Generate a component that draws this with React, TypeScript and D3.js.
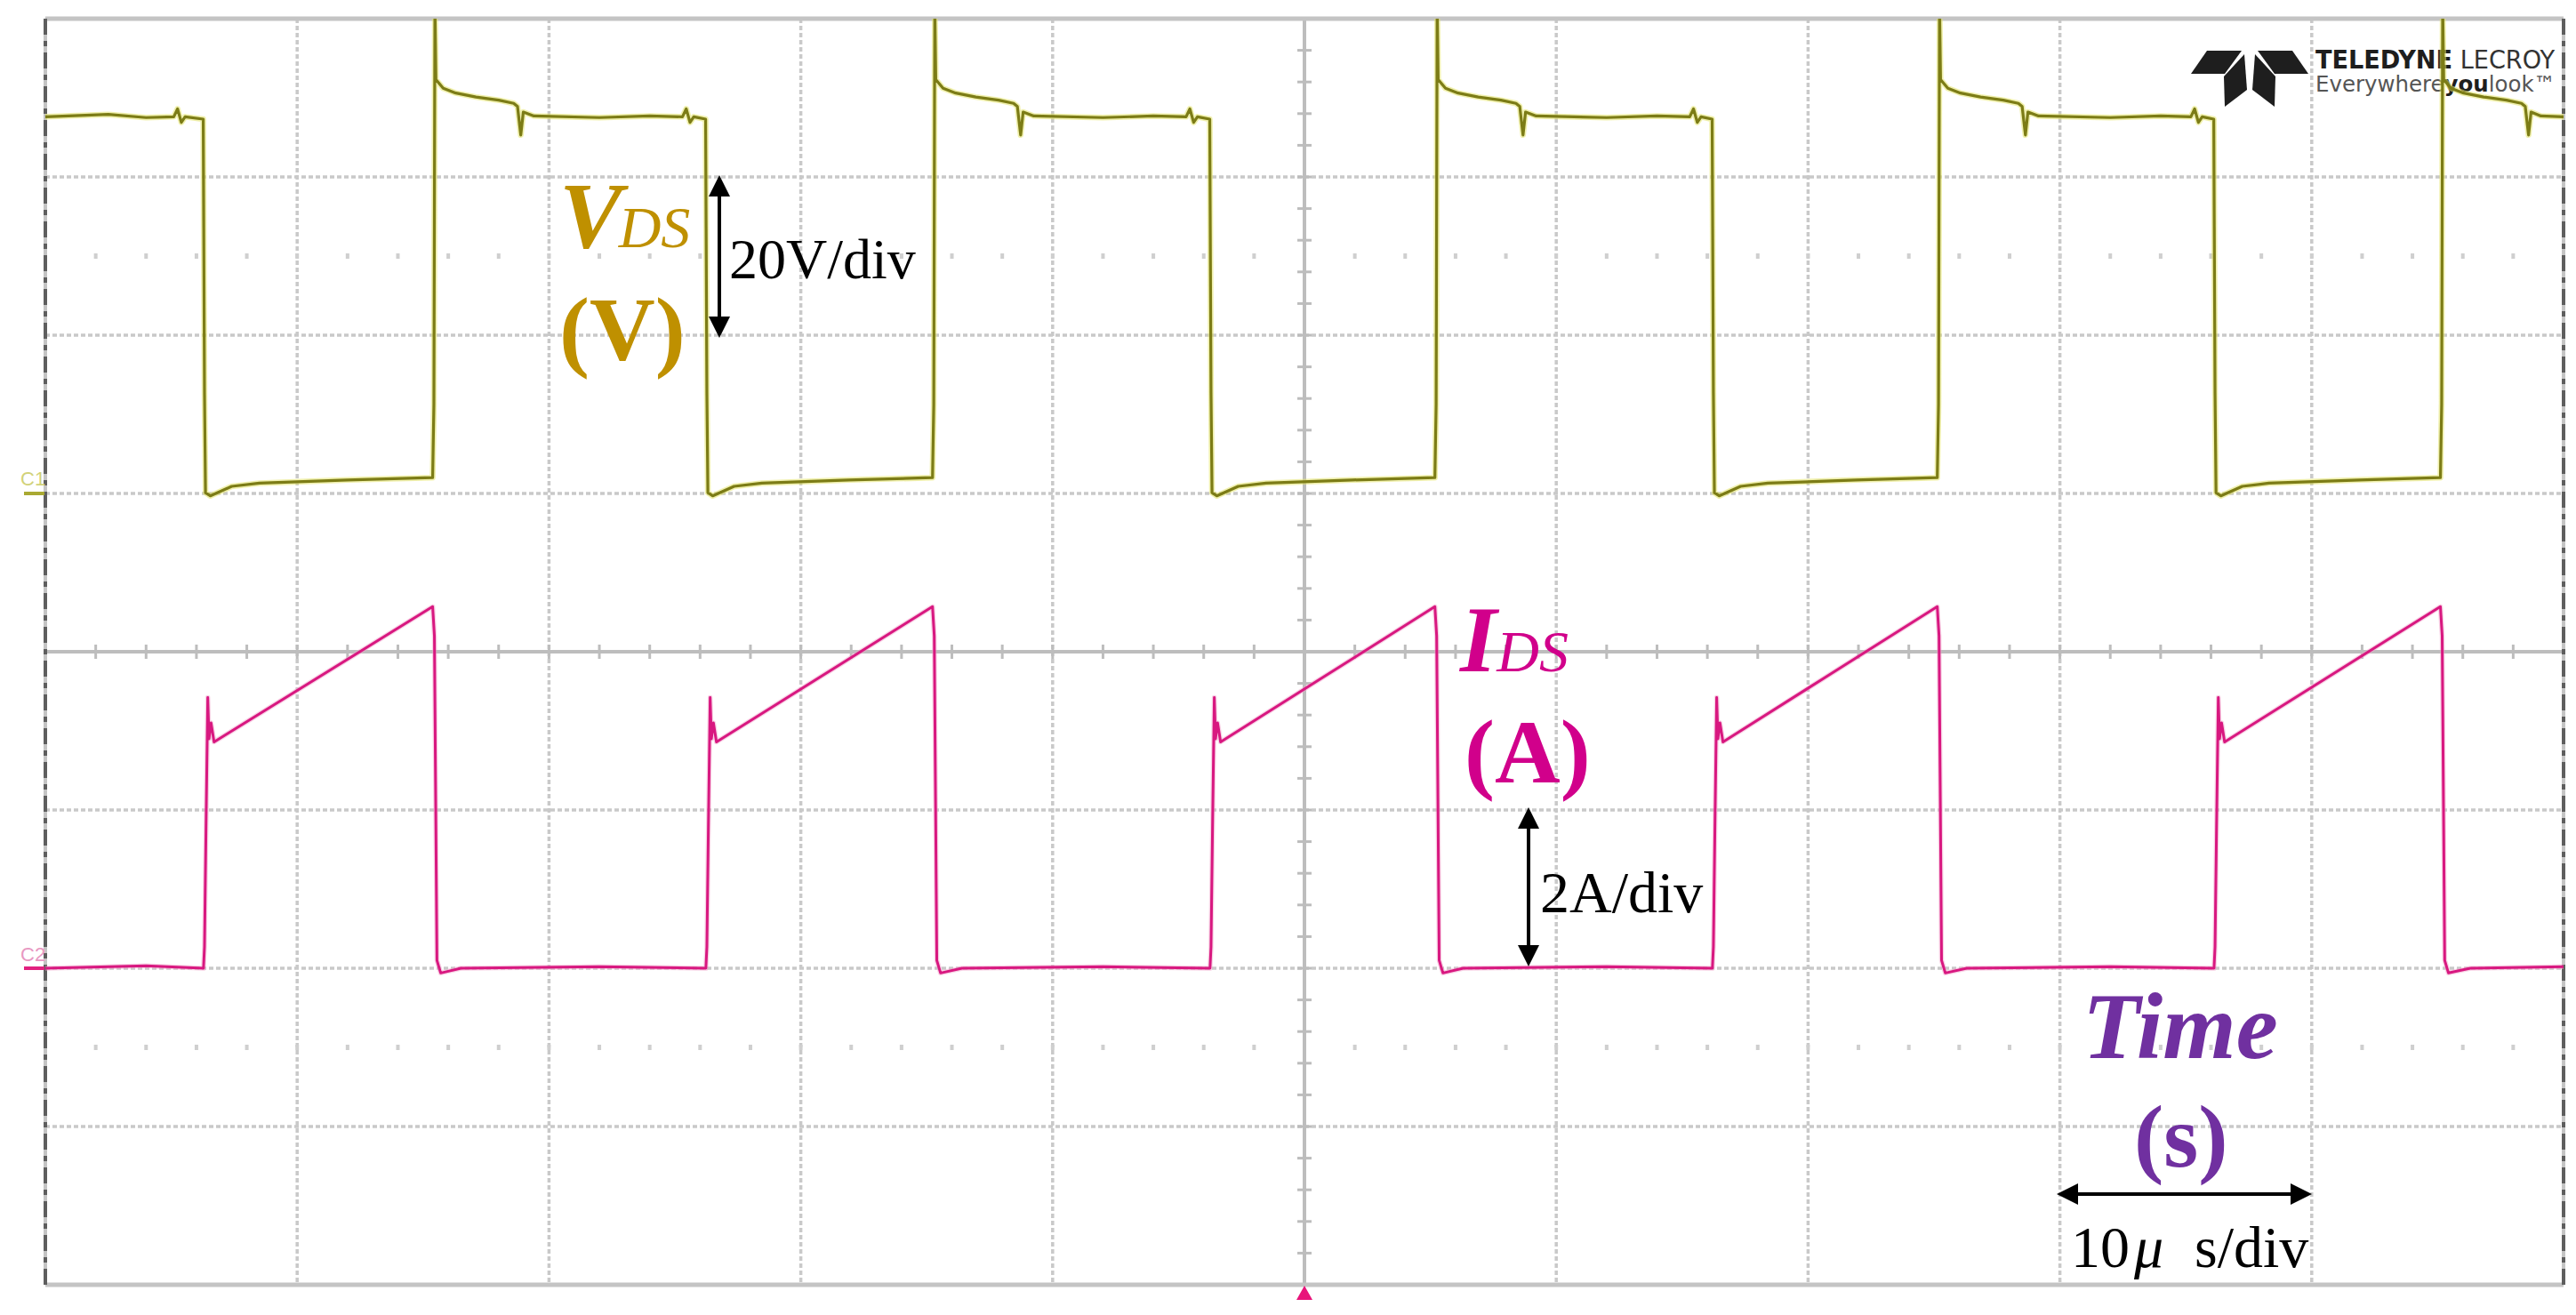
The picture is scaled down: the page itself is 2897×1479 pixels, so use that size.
import * as d3 from 'd3';

// scope screen: 10 x 8 divisions, 10 us/div, C1 = 20 V/div, C2 = 2 A/div
const timeDomain: [number, number] = [-50, 50]; // us
const vdsDomain: [number, number] = [-100, 60]; // V, C1 ground on 3rd line
const idsDomain: [number, number] = [-4, 12]; // A, C2 ground on 6th line

// V_DS trace (us, V)
const vdsTrace: [number, number][] = [
  [-50, 47.6], [-47.5, 47.9], [-46, 47.5], [-44.9, 47.6], [-44.75, 48.6], [-44.6, 46.9], [-44.45, 47.6], [-43.73, 47.3],
  [-43.68, 12.7], [-43.64, 0.1], [-43.45, -0.3], [-42.6, 0.9], [-41.5, 1.3], [-38.0, 1.7], [-34.62, 2.0],
  [-34.57, 11.3], [-34.53, 62], [-34.49, 52.3], [-34.2, 51.2], [-33.7, 50.6], [-32.9, 50.1], [-32.0, 49.7], [-31.4, 49.3], [-31.25, 48.9], [-31.12, 45.3], [-31.02, 48.2], [-30.6, 47.7],
  [-28.0, 47.5], [-26.0, 47.7], [-24.7, 47.6], [-24.55, 48.6], [-24.4, 46.9], [-24.25, 47.6], [-23.78, 47.3],
  [-23.73, 12.7], [-23.69, 0.1], [-23.5, -0.3], [-22.65, 0.9], [-21.55, 1.3], [-18.1, 1.7], [-14.77, 2.0],
  [-14.72, 11.3], [-14.68, 62], [-14.64, 52.3], [-14.35, 51.2], [-13.85, 50.6], [-13.05, 50.1], [-12.15, 49.7], [-11.55, 49.3], [-11.4, 48.9], [-11.27, 45.3], [-11.17, 48.2], [-10.75, 47.7],
  [-8.0, 47.5], [-6.0, 47.7], [-4.7, 47.6], [-4.55, 48.6], [-4.4, 46.9], [-4.25, 47.6], [-3.76, 47.3],
  [-3.71, 12.7], [-3.67, 0.1], [-3.48, -0.3], [-2.63, 0.9], [-1.53, 1.3], [1.9, 1.7], [5.18, 2.0],
  [5.23, 11.3], [5.27, 62], [5.31, 52.3], [5.6, 51.2], [6.1, 50.6], [6.9, 50.1], [7.8, 49.7], [8.4, 49.3], [8.55, 48.9], [8.68, 45.3], [8.78, 48.2], [9.2, 47.7],
  [12.0, 47.5], [14.0, 47.7], [15.3, 47.6], [15.45, 48.6], [15.6, 46.9], [15.75, 47.6], [16.19, 47.3],
  [16.24, 12.7], [16.28, 0.1], [16.47, -0.3], [17.32, 0.9], [18.4, 1.3], [21.9, 1.7], [25.13, 2.0],
  [25.18, 11.3], [25.22, 62], [25.26, 52.3], [25.55, 51.2], [26.05, 50.6], [26.85, 50.1], [27.75, 49.7], [28.35, 49.3], [28.5, 48.9], [28.63, 45.3], [28.73, 48.2], [29.15, 47.7],
  [32.0, 47.5], [34.0, 47.7], [35.2, 47.6], [35.35, 48.6], [35.5, 46.9], [35.65, 47.6], [36.11, 47.3],
  [36.16, 12.7], [36.2, 0.1], [36.39, -0.3], [37.24, 0.9], [38.3, 1.3], [41.9, 1.7], [45.11, 2.0],
  [45.16, 11.3], [45.2, 62], [45.24, 52.3], [45.53, 51.2], [46.03, 50.6], [46.83, 50.1], [47.73, 49.7], [48.33, 49.3], [48.48, 48.9], [48.61, 45.3], [48.71, 48.2], [49.1, 47.7], [50, 47.6],
];

// I_DS trace (us, A)
const idsTrace: [number, number][] = [
  [-50, 0], [-46, 0.03], [-43.72, 0],
  [-43.68, 0.27], [-43.62, 1.78], [-43.55, 3.42], [-43.5, 2.9], [-43.42, 3.1], [-43.3, 2.86], [-34.62, 4.57],
  [-34.55, 4.2], [-34.45, 0.1], [-34.3, -0.06], [-33.5, 0], [-28, 0.02], [-23.77, 0],
  [-23.73, 0.27], [-23.67, 1.78], [-23.6, 3.42], [-23.55, 2.9], [-23.47, 3.1], [-23.35, 2.86], [-14.77, 4.57],
  [-14.7, 4.2], [-14.6, 0.1], [-14.45, -0.06], [-13.6, 0], [-8, 0.02], [-3.75, 0],
  [-3.71, 0.27], [-3.65, 1.78], [-3.58, 3.42], [-3.53, 2.9], [-3.45, 3.1], [-3.33, 2.86], [5.18, 4.57],
  [5.25, 4.2], [5.35, 0.1], [5.5, -0.06], [6.3, 0], [12, 0.02], [16.2, 0],
  [16.24, 0.27], [16.3, 1.78], [16.37, 3.42], [16.42, 2.9], [16.5, 3.1], [16.62, 2.86], [25.13, 4.57],
  [25.2, 4.2], [25.3, 0.1], [25.45, -0.06], [26.3, 0], [32, 0.02], [36.12, 0],
  [36.16, 0.27], [36.22, 1.78], [36.29, 3.42], [36.34, 2.9], [36.42, 3.1], [36.54, 2.86], [45.11, 4.57],
  [45.18, 4.2], [45.28, 0.1], [45.43, -0.06], [46.3, 0], [50, 0.02],
];

const W = 2897;
const H = 1479;
const L = 51, R = 2883, T = 21, B = 1445;

function VArrow({ x, y1, y2 }: { x: number; y1: number; y2: number }) {
  const h = 24, w = 12;
  return (
    <g fill="#000" stroke="#000">
      <line x1={x} x2={x} y1={y1 + h - 4} y2={y2 - h + 4} strokeWidth={4} />
      <polygon stroke="none" points={`${x},${y1} ${x - w},${y1 + h} ${x + w},${y1 + h}`} />
      <polygon stroke="none" points={`${x},${y2} ${x - w},${y2 - h} ${x + w},${y2 - h}`} />
    </g>
  );
}

function HArrow({ y, x1, x2 }: { y: number; x1: number; x2: number }) {
  const h = 24, w = 12;
  return (
    <g fill="#000" stroke="#000">
      <line y1={y} y2={y} x1={x1 + h - 4} x2={x2 - h + 4} strokeWidth={4} />
      <polygon stroke="none" points={`${x1},${y} ${x1 + h},${y - w} ${x1 + h},${y + w}`} />
      <polygon stroke="none" points={`${x2},${y} ${x2 - h},${y - w} ${x2 - h},${y + w}`} />
    </g>
  );
}

function Logo() {
  return (
    <g>
      <g fill="#1e1e1e">
        <polygon points="2482,57 2521,57 2502,83 2464,83" />
        <polygon points="2524,61 2501,86 2502,120 2527,101" />
        <polygon points="2536,61 2559,86 2558,120 2533,101" />
        <polygon points="2539,57 2578,57 2596,83 2558,83" />
      </g>
      <g fontFamily="'Liberation Sans Narrow', 'DejaVu Sans Condensed', 'Liberation Sans', sans-serif">
        <text x={2604} y={77} fontSize={28} fill="#333" textLength={269} lengthAdjust="spacingAndGlyphs">
          <tspan fontWeight="bold" fill="#1e1e1e">TELEDYNE</tspan> LECROY
        </text>
        <text x={2604} y={103} fontSize={24} fill="#555" textLength={270} lengthAdjust="spacingAndGlyphs">
          Everywhere<tspan fontWeight="bold" fill="#1e1e1e">you</tspan>look™
        </text>
      </g>
    </g>
  );
}

export default function App() {
  const x = d3.scaleLinear().domain(timeDomain).range([L, R]);
  const yV = d3.scaleLinear().domain(vdsDomain).range([B, T]);
  const yI = d3.scaleLinear().domain(idsDomain).range([B, T]);

  const gridT = d3.range(timeDomain[0] + 10, timeDomain[1], 10).filter((t) => t !== 0);
  const gridV = d3.range(vdsDomain[0] + 20, vdsDomain[1], 20).filter((v) => v !== -20);
  const minorT = d3.range(timeDomain[0], timeDomain[1] + 0.01, 2);
  const minorV = d3.range(vdsDomain[0], vdsDomain[1] + 0.01, 4);
  const dotRowsV = [30, -70];

  const vLine = d3.line<[number, number]>().x((d) => x(d[0])).y((d) => yV(d[1]));
  const iLine = d3.line<[number, number]>().x((d) => x(d[0])).y((d) => yI(d[1]));

  const cx = x(0);
  const cy = yV(-20);

  return (
    <svg width={W} height={H} style={{ position: 'fixed', left: 0, top: 0, background: '#fff' }}>
      <defs>
        <clipPath id="plot">
          <rect x={L} y={T} width={R - L} height={B - T} />
        </clipPath>
      </defs>
      <rect x={0} y={0} width={W} height={H} fill="#fff" />

      {/* graticule */}
      <g stroke="#c9c9c9" strokeWidth={3.5} strokeDasharray="5 3">
        {gridT.map((t) => (
          <line key={`gt${t}`} x1={x(t)} x2={x(t)} y1={T} y2={B} />
        ))}
        {gridV.map((v) => (
          <line key={`gv${v}`} x1={L} x2={R} y1={yV(v)} y2={yV(v)} />
        ))}
      </g>
      <g fill="#cfcfcf">
        {dotRowsV.map((v) =>
          minorT.map((t) => <rect key={`d${v}_${t}`} x={x(t) - 2} y={yV(v) - 3} width={4} height={6} />)
        )}
      </g>
      <g stroke="#bdbdbd" strokeWidth={4}>
        <line x1={L} x2={R} y1={cy} y2={cy} />
        <line x1={cx} x2={cx} y1={T} y2={B} />
        {minorT.map((t) => (
          <line key={`mt${t}`} x1={x(t)} x2={x(t)} y1={cy - 8} y2={cy + 8} strokeWidth={3} />
        ))}
        {minorV.map((v) => (
          <line key={`mv${v}`} x1={cx - 8} x2={cx + 8} y1={yV(v)} y2={yV(v)} strokeWidth={3} />
        ))}
      </g>
      <g stroke="#c4c4c4" strokeWidth={5}>
        <line x1={L} x2={R} y1={T} y2={T} />
        <line x1={L} x2={R} y1={B} y2={B} />
        <line x1={L} x2={L} y1={T} y2={B} strokeWidth={4} />
        <line x1={R} x2={R} y1={T} y2={B} strokeWidth={4} />
      </g>
      <g stroke="#5e5e5e" strokeWidth={4} strokeDasharray="18 7 6 7">
        <line x1={L} x2={L} y1={T} y2={B} />
        <line x1={R} x2={R} y1={T} y2={B} />
      </g>

      <Logo />

      {/* channel markers */}
      <text x={23} y={546} fontSize={22} fontFamily="'Liberation Sans Narrow', 'Liberation Sans', sans-serif" fill="#d2d27a">C1</text>
      <line x1={27} x2={50} y1={yV(0)} y2={yV(0)} stroke="#a9a932" strokeWidth={4} />
      <text x={23} y={1081} fontSize={22} fontFamily="'Liberation Sans Narrow', 'Liberation Sans', sans-serif" fill="#e898c2">C2</text>
      <line x1={27} x2={50} y1={yI(0)} y2={yI(0)} stroke="#e2207f" strokeWidth={4} />
      <polygon points={`${cx - 9},${B + 17} ${cx + 9},${B + 17} ${cx},${B + 1}`} fill="#e8147a" />

      {/* traces */}
      <g clipPath="url(#plot)" fill="none" strokeLinejoin="round">
        <path d={vLine(vdsTrace) ?? ''} stroke="#e4e46a" strokeWidth={6.5} strokeOpacity={0.55} />
        <path d={vLine(vdsTrace) ?? ''} stroke="#7c7c16" strokeWidth={3.2} />
        <path d={iLine(idsTrace) ?? ''} stroke="#f2a6cc" strokeWidth={5.5} strokeOpacity={0.5} />
        <path d={iLine(idsTrace) ?? ''} stroke="#d81880" strokeWidth={3} />
      </g>

      {/* annotations */}
      <g fontFamily="'Liberation Serif', 'Times New Roman', serif">
        <text x={629} y={278} fontSize={106} fontWeight="bold" fontStyle="italic" fill="#bf9000">
          V<tspan fontSize={66} fontWeight="normal" dx={-4}>DS</tspan>
        </text>
        <text x={629} y={405} fontSize={102} fontWeight="bold" fill="#bf9000">(V)</text>
        <text x={820} y={313} fontSize={64} fill="#000">20V/div</text>
        <VArrow x={809} y1={197} y2={380} />

        <text x={1642} y={755} fontSize={106} fontWeight="bold" fontStyle="italic" fill="#d1008b">
          I<tspan fontSize={66} fontWeight="normal">DS</tspan>
        </text>
        <text x={1647} y={880} fontSize={102} fontWeight="bold" fill="#d1008b">(A)</text>
        <text x={1732} y={1026} fontSize={66} fill="#000">2A/div</text>
        <VArrow x={1719} y1={908} y2={1087} />

        <text x={2342} y={1190} fontSize={106} fontWeight="bold" fontStyle="italic" fill="#7030a0">Time</text>
        <text x={2400} y={1312} fontSize={100} fontWeight="bold" fill="#7030a0">(s)</text>
        <HArrow y={1343} x1={2313} x2={2600} />
        <text y={1425} fontSize={66} fill="#000">
          <tspan x={2329}>10</tspan>
          <tspan x={2400} fontStyle="italic">μ</tspan>
          <tspan x={2468}>s/div</tspan>
        </text>
      </g>
    </svg>
  );
}
